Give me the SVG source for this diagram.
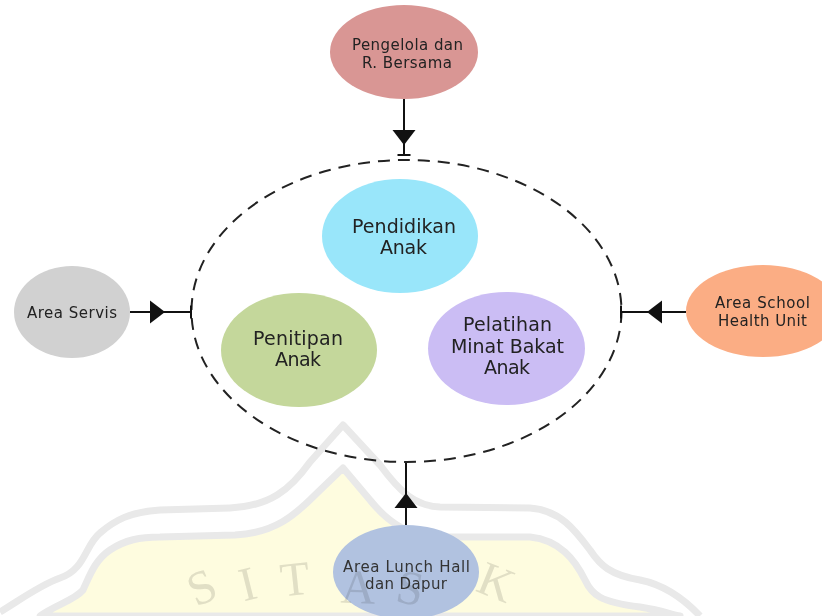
<svg xmlns="http://www.w3.org/2000/svg" width="822" height="616" viewBox="0 0 822 616">
  <style>
    .lbl { font-family: "DejaVu Sans", Verdana, sans-serif; fill: #222; text-anchor: middle; }
    .s { font-size: 15px; }
    .b { font-size: 19px; }
    .conn { fill: none; stroke: #111; stroke-width: 2; }
    .wm-line { fill: none; stroke: #e9e9e9; stroke-width: 7; stroke-linejoin: round; }
    .wm-letter { font-family: "Liberation Serif", "Times New Roman", serif; font-size: 48px; fill: #e2e2e2; text-anchor: middle; }
  </style>
  <defs>
    <marker id="tri" markerUnits="userSpaceOnUse" markerWidth="30" markerHeight="30" refX="15" refY="12" orient="auto" overflow="visible">
      <path d="M15,12 L0,0.5 L0,23.5 Z" fill="#111"/>
    </marker>
    <marker id="tick" markerUnits="userSpaceOnUse" markerWidth="20" markerHeight="20" refX="10" refY="10" orient="auto" overflow="visible">
      <path d="M10,3.5 L10,16.5" stroke="#111" stroke-width="2"/>
    </marker>
  </defs>
  <rect width="822" height="616" fill="#fff"/>

  <g id="watermark-shape">
    <path d="M40,616 C55,605 75,600 83,590 C90,575 95,560 110,550 C125,540 140,537 160,537 L235,535 C275,533 295,515 315,495 L343,468 L370,500 C390,525 410,536 440,537 L530,537 C560,540 575,560 585,580 C592,595 600,602 640,607 C660,610 670,614 680,616 Z" fill="#fefcdf" stroke="#e9e9e9" stroke-width="7" stroke-linejoin="round"/>
    <path class="wm-line" d="M0,612 C20,600 40,585 60,578 C85,570 85,545 100,533 C115,520 130,512 160,510 L230,508 C270,506 290,490 310,462 L343,425 L380,465 C400,492 415,506 440,507 L530,508 C560,510 575,530 590,550 C600,565 610,575 640,580 C665,585 685,600 700,616"/>
  </g>

  <ellipse id="boundary" cx="406.5" cy="311" rx="215" ry="151" fill="none" stroke="#222" stroke-width="2" stroke-dasharray="12 8"/>

  <g id="connectors">
    <path class="conn" d="M404,99 L404,145 L404,155" marker-mid="url(#tri)" marker-end="url(#tick)"/>
    <path class="conn" d="M130,312 L165,312 L191,312" marker-mid="url(#tri)" marker-end="url(#tick)"/>
    <path class="conn" d="M686,312 L647,312 L621,312" marker-mid="url(#tri)" marker-end="url(#tick)"/>
    <path class="conn" d="M406,525 L406,493 L406,463" marker-mid="url(#tri)"/>
  </g>

  <g id="pengelola">
    <ellipse cx="404" cy="52" rx="74" ry="47" fill="#d99694"/>
    <text class="lbl s" x="407.5" y="50" textLength="111" lengthAdjust="spacing">Pengelola dan</text>
    <text class="lbl s" x="407" y="68" textLength="90" lengthAdjust="spacing">R. Bersama</text>
  </g>

  <g id="pendidikan">
    <ellipse cx="400" cy="236" rx="78" ry="57" fill="#99e6fa"/>
    <text class="lbl b" x="404" y="233" textLength="104" lengthAdjust="spacing">Pendidikan</text>
    <text class="lbl b" x="403.5" y="254" textLength="47" lengthAdjust="spacing">Anak</text>
  </g>

  <g id="penitipan">
    <ellipse cx="299" cy="350" rx="78" ry="57" fill="#c4d79b"/>
    <text class="lbl b" x="298" y="345" textLength="90" lengthAdjust="spacing">Penitipan</text>
    <text class="lbl b" x="298" y="366" textLength="46" lengthAdjust="spacing">Anak</text>
  </g>

  <g id="pelatihan">
    <ellipse cx="506.5" cy="348.5" rx="78.5" ry="56.5" fill="#cbbdf4"/>
    <text class="lbl b" x="507.5" y="331" textLength="89" lengthAdjust="spacing">Pelatihan</text>
    <text class="lbl b" x="507.5" y="353" textLength="113" lengthAdjust="spacing">Minat Bakat</text>
    <text class="lbl b" x="507" y="374" textLength="46" lengthAdjust="spacing">Anak</text>
  </g>

  <g id="area-servis">
    <ellipse cx="72" cy="312" rx="58" ry="46" fill="#d1d1d1"/>
    <text class="lbl s" x="72" y="318" textLength="90" lengthAdjust="spacing">Area Servis</text>
  </g>

  <g id="area-school">
    <ellipse cx="763" cy="311" rx="77" ry="46" fill="#fbad84"/>
    <text class="lbl s" x="762.5" y="308" textLength="95" lengthAdjust="spacing">Area School</text>
    <text class="lbl s" x="762.5" y="326" textLength="89" lengthAdjust="spacing">Health Unit</text>
  </g>

  <g id="area-lunch">
    <ellipse cx="406" cy="572" rx="73" ry="47" fill="#b1c2e0"/>
    <text class="lbl s" x="406.5" y="572" textLength="127" lengthAdjust="spacing" style="fill:#333">Area Lunch Hall</text>
    <text class="lbl s" x="406" y="589" textLength="82" lengthAdjust="spacing" style="fill:#333">dan Dapur</text>
  </g>

  <g id="watermark-letters" style="mix-blend-mode:multiply">
    <text class="wm-letter" x="202" y="603" transform="rotate(-24 202 588)">S</text>
    <text class="wm-letter" x="248" y="600" transform="rotate(-14 248 585)">I</text>
    <text class="wm-letter" x="295" y="595" transform="rotate(-6 295 580)">T</text>
    <text class="wm-letter" x="358" y="603" transform="rotate(2 358 588)">A</text>
    <text class="wm-letter" x="410" y="604" transform="rotate(10 410 589)">S</text>
    <text class="wm-letter" x="496" y="598" transform="rotate(22 496 583)">K</text>
  </g>
</svg>
